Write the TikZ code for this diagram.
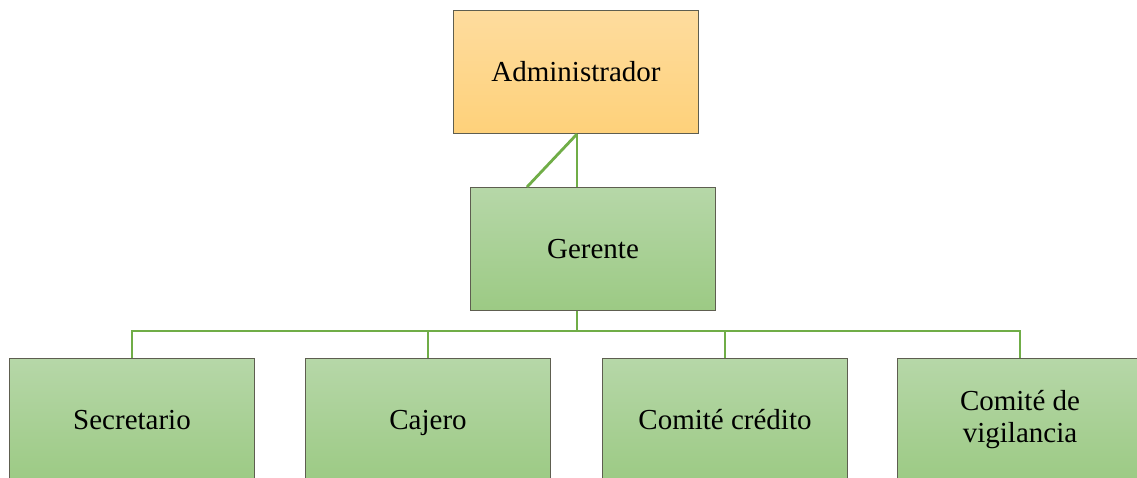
\documentclass[tikz,border=0pt]{standalone}
\usepackage{fontspec}
\setmainfont{Liberation Serif}
\definecolor{orTop}{HTML}{FEDC9E}
\definecolor{orBot}{HTML}{FED17A}
\definecolor{grTop}{HTML}{B6D7A8}
\definecolor{grBot}{HTML}{9CCA84}
\definecolor{edge}{HTML}{5E5E50}
\definecolor{link}{HTML}{70AD47}
\tikzset{
  box/.style={draw=edge, line width=1pt, minimum width=245pt, minimum height=123pt,
    inner sep=0pt, align=center, font=\fontsize{29}{32}\selectfont, anchor=north west},
  one/.style={text height=23pt, text depth=4pt},
  orbox/.style={box, one, top color=orTop, bottom color=orBot},
  grbox/.style={box, top color=grTop, bottom color=grBot},
  conn/.style={draw=link, line width=2.8pt}
}
\begin{document}
\begin{tikzpicture}[x=1pt,y=-1pt]
\useasboundingbox (0,0) rectangle (1137,477);
\clip (0,0) rectangle (1137,477);
\node[orbox] (adm) at (453,10) {Administrador};
\node[grbox, one] (ger) at (470,187) {Gerente};
\node[grbox, one] (sec) at (9,358) {Secretario};
\node[grbox, one] (caj) at (305,358) {Cajero};
\node[grbox, one] (cc) at (602,358) {Comité crédito};
\node[grbox] (cv) at (897,358) {Comité de\\vigilancia};
\coordinate (bus) at (577,331);
\draw[conn] (adm.south -| bus) -- (ger.north -| bus);
\draw[conn] (adm.south -| bus) -- (527,187);
\draw[conn] (ger.south -| bus) -- (bus);
\draw[conn] (sec.north) -- (sec.north |- bus) -- (cv.north |- bus) -- (cv.north);
\draw[conn] (caj.north) -- (caj.north |- bus);
\draw[conn] (cc.north) -- (cc.north |- bus);
\end{tikzpicture}
\end{document}
